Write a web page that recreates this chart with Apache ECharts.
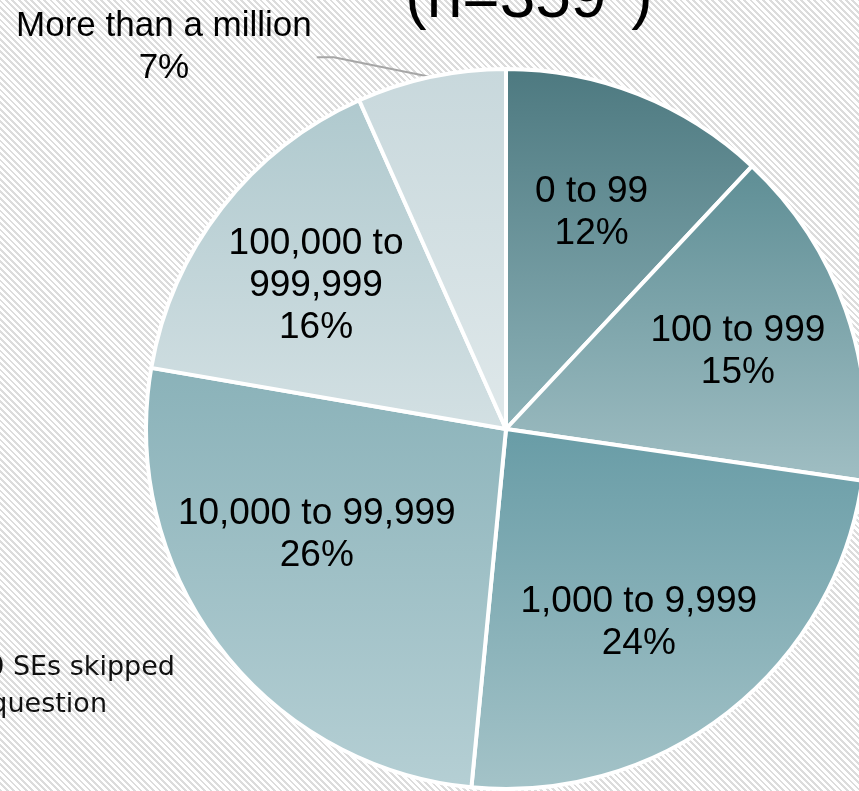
<!DOCTYPE html>
<html>
<head>
<meta charset="utf-8">
<script src="https://cdn.jsdelivr.net/npm/echarts@6/dist/echarts.min.js"></script>
<style>
    html, body { margin: 0; padding: 0; }
    #chart {
        width: 859px;
        height: 791px;
        background: repeating-linear-gradient(45deg, #dcdcdc 0px, #dcdcdc 2px, #ffffff 2px, #ffffff 4.5px);
    }
</style>
</head>
<body>
<div id="chart"></div>
<script>
    // data (respondent counts, n=359)
    const categories = ['0 to 99', '100 to 999', '1,000 to 9,999', '10,000 to 99,999', '100,000 to\n999,999', 'More than a million'];
    const counts = [43, 55, 87, 94, 56, 24];
    const titleText = '(n=359*)';
    const noteLines = ['*20 SEs skipped', 'this question'];

    // slice gradients, top -> bottom
    const topColors = ['#4d7980', '#5e8e95', '#689ca6', '#8ab2b9', '#afc9ce', '#c8d8dc'];
    const bottomColors = ['#8db2b8', '#a0bec3', '#a4c3c8', '#b5cfd4', '#d3e0e3', '#dfe8ea'];
    // small label nudges, Excel places a few labels off the mid angle
    const labelNudge = [[0, 0], [12, 0], [-11, 10], [-4, -36], [-6, 0], [0, 0]];

    let myChart = echarts.init(document.getElementById('chart'), null, {renderer: 'canvas'});
    const center = [506, 429];
    const R = 360;

    let sliceData = categories.map((name, i) => ({
        name: name,
        value: counts[i],
        itemStyle: {
            color: new echarts.graphic.LinearGradient(0, 0, 0, 1, [
                {offset: 0, color: topColors[i]},
                {offset: 1, color: bottomColors[i]}
            ])
        }
    }));

    let labelData = categories.map((name, i) => {
        let item = {name: name, value: counts[i]};
        if (i === categories.length - 1) {
            item.label = {position: 'outside', fontSize: 35};
            item.labelLine = {show: true};
        }
        return item;
    });

    let option = {
        animation: false,
        textStyle: {fontFamily: 'Liberation Sans'},
        graphic: [
            {
                type: 'text', x: 529, y: -1,
                style: {text: titleText, fontFamily: 'Liberation Sans', fontSize: 64, fill: '#000', textAlign: 'center', textVerticalAlign: 'middle'}
            },
            {
                type: 'text', x: 175, y: 668,
                style: {text: noteLines[0], fontFamily: 'DejaVu Sans', fontSize: 27, fill: '#111', textAlign: 'right', textVerticalAlign: 'middle'}
            },
            {
                type: 'text', x: 107, y: 705,
                style: {text: noteLines[1], fontFamily: 'DejaVu Sans', fontSize: 27, fill: '#111', textAlign: 'right', textVerticalAlign: 'middle'}
            }
        ],
        series: [
            {
                name: 'slices',
                type: 'pie',
                center: center,
                radius: [0, R],
                startAngle: 90,
                clockwise: true,
                silent: true,
                label: {show: false},
                labelLine: {show: false},
                itemStyle: {borderColor: '#ffffff', borderWidth: 4},
                data: sliceData
            },
            {
                // transparent copy, only carries the labels
                name: 'labels',
                type: 'pie',
                center: center,
                radius: [100, R],
                startAngle: 90,
                clockwise: true,
                silent: true,
                avoidLabelOverlap: false,
                itemStyle: {color: 'rgba(0,0,0,0)', borderWidth: 0},
                label: {
                    show: true,
                    position: 'inside',
                    color: '#000',
                    fontFamily: 'Liberation Sans',
                    fontSize: 37,
                    lineHeight: 42,
                    formatter: p => p.name + '\n' + Math.round(p.percent) + '%'
                },
                labelLine: {show: false, length: 20, length2: 110, lineStyle: {color: '#a6a6a6', width: 2}},
                labelLayout: function (params) {
                    let i = params.dataIndex;
                    let r = params.labelRect;
                    if (i === categories.length - 1) {
                        let p = params.labelLinePoints;
                        if (!p) return {};
                        let p0 = p[0];
                        let p2 = p[2];
                        return {
                            x: r.x + r.width / 2,
                            y: r.y + r.height / 2 - 10,
                            align: 'center',
                            verticalAlign: 'middle',
                            labelLinePoints: [p0, [p2[0] + 17, p2[1]], [p2[0], p2[1]]]
                        };
                    }
                    return {dx: labelNudge[i][0], dy: labelNudge[i][1]};
                },
                data: labelData
            }
        ]
    };
    myChart.setOption(option);
</script>
</body>
</html>
